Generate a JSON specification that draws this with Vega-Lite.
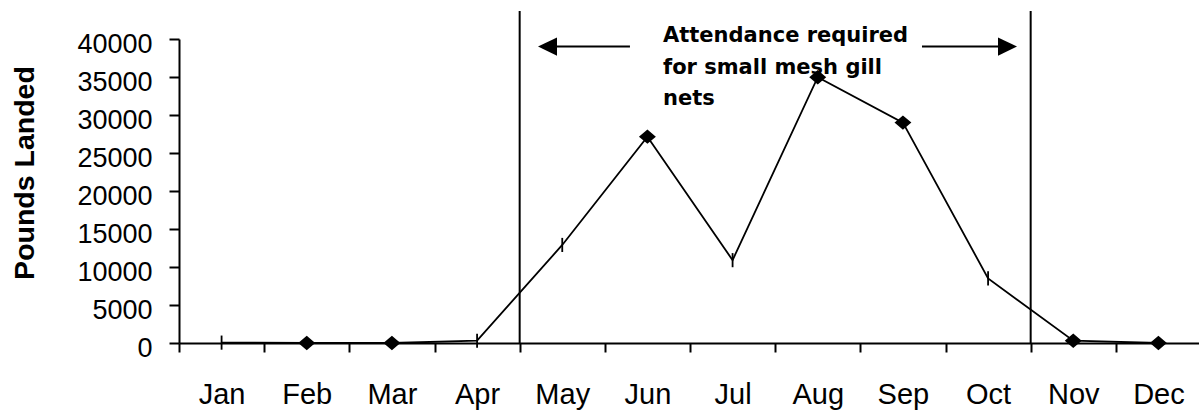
{
  "$schema": "https://vega.github.io/schema/vega-lite/v6.json",
  "width": 1022,
  "height": 304,
  "autosize": {"type": "none"},
  "padding": {"left": 179, "top": 39, "right": 0, "bottom": 68},
  "background": "white",
  "config": {
    "view": {"stroke": null},
    "axisY": {
      "grid": false, "labelOverlap": false,
      "domainColor": "black", "domainWidth": 2,
      "tickColor": "black", "tickWidth": 2, "tickSize": 10,
      "labelFont": "Liberation Sans", "labelFontSize": 27, "labelColor": "black",
      "labelPadding": 17, "labelOffset": 5,
      "titleFont": "Liberation Sans", "titleFontSize": 28.5, "titleFontWeight": "bold",
      "titleColor": "black", "titleAngle": -90, "titleBaseline": "alphabetic",
      "titleAlign": "center", "titleX": -146, "titleY": 133.5
    }
  },
  "datasets": {
    "landings": [
      {"month": "Jan", "pounds": 50, "marker": "dash"},
      {"month": "Feb", "pounds": 0, "marker": "diamond"},
      {"month": "Mar", "pounds": 0, "marker": "diamond"},
      {"month": "Apr", "pounds": 300, "marker": "dash"},
      {"month": "May", "pounds": 12900, "marker": "dash"},
      {"month": "Jun", "pounds": 27150, "marker": "diamond"},
      {"month": "Jul", "pounds": 10900, "marker": "dash"},
      {"month": "Aug", "pounds": 34970, "marker": "diamond"},
      {"month": "Sep", "pounds": 29000, "marker": "diamond"},
      {"month": "Oct", "pounds": 8500, "marker": "dash"},
      {"month": "Nov", "pounds": 300, "marker": "diamond"},
      {"month": "Dec", "pounds": 0, "marker": "diamond"}
    ],
    "rules": [
      {"pos": 4, "y0": 0, "y1": 43700},
      {"pos": 10, "y0": 0, "y1": 43700}
    ],
    "shafts": [
      {"from": 4.327, "to": 5.295, "y": 39000},
      {"from": 8.724, "to": 9.728, "y": 39000}
    ],
    "heads": [
      {"pos": 4.327, "y": 39000, "dir": "left"},
      {"pos": 9.728, "y": 39000, "dir": "right"}
    ],
    "note": [
      {"pos": 5.683, "y": 39600, "label": "Attendance required\nfor small mesh gill\nnets"}
    ]
  },
  "resolve": {"scale": {"x": "independent"}, "axis": {"x": "independent"}},
  "layer": [
    {
      "data": {"name": "landings"},
      "encoding": {
        "x": {
          "field": "month", "type": "ordinal", "sort": null,
          "scale": {"type": "band", "paddingInner": 0, "paddingOuter": 0},
          "axis": {
            "title": null, "tickBand": "extent", "labelAngle": 0,
            "domainColor": "black", "domainWidth": 2,
            "tickColor": "black", "tickWidth": 2, "tickSize": 9,
            "labelFont": "Liberation Sans", "labelFontSize": 29, "labelColor": "black",
            "labelBaseline": "alphabetic", "labelPadding": 51, "grid": false, "labelOverlap": false
          }
        },
        "y": {
          "field": "pounds", "type": "quantitative",
          "scale": {"domain": [0, 40000], "nice": false},
          "axis": {"title": "Pounds Landed", "values": [0, 5000, 10000, 15000, 20000, 25000, 30000, 35000, 40000], "format": "d", "tickCount": 9}
        }
      },
      "layer": [
        {"mark": {"type": "line", "color": "black", "strokeWidth": 1.8}},
        {
          "mark": {"type": "point", "filled": true, "fill": "black", "stroke": "black", "strokeWidth": 1.8, "opacity": 1, "size": 200},
          "encoding": {
            "shape": {
              "field": "marker", "type": "nominal",
              "scale": {"domain": ["diamond", "dash", "left", "right"], "range": ["M-1,0L0,-0.85L1,0L0,0.85Z", "M0,-1L0,1", "M-1,0L1,-0.95L1,0.95Z", "M1,0L-1,-0.95L-1,0.95Z"]},
              "legend": null
            }
          }
        }
      ]
    },
    {
      "data": {"name": "rules"},
      "mark": {"type": "rule", "color": "black", "strokeWidth": 2},
      "encoding": {
        "x": {"field": "pos", "type": "quantitative", "scale": {"domain": [0, 12], "nice": false, "zero": false}, "axis": null},
        "y": {"field": "y0", "type": "quantitative", "scale": {"domain": [0, 40000], "nice": false}, "axis": {"title": "Pounds Landed", "values": [0, 5000, 10000, 15000, 20000, 25000, 30000, 35000, 40000], "format": "d", "tickCount": 9}},
        "y2": {"field": "y1"}
      }
    },
    {
      "data": {"name": "shafts"},
      "mark": {"type": "rule", "color": "black", "strokeWidth": 2},
      "encoding": {
        "x": {"field": "from", "type": "quantitative", "scale": {"domain": [0, 12], "nice": false, "zero": false}, "axis": null},
        "x2": {"field": "to"},
        "y": {"field": "y", "type": "quantitative", "scale": {"domain": [0, 40000], "nice": false}, "axis": {"title": "Pounds Landed", "values": [0, 5000, 10000, 15000, 20000, 25000, 30000, 35000, 40000], "format": "d", "tickCount": 9}}
      }
    },
    {
      "data": {"name": "heads"},
      "mark": {"type": "point", "filled": true, "fill": "black", "opacity": 1, "size": 361, "strokeWidth": 0},
      "encoding": {
        "x": {"field": "pos", "type": "quantitative", "scale": {"domain": [0, 12], "nice": false, "zero": false}, "axis": null},
        "y": {"field": "y", "type": "quantitative", "scale": {"domain": [0, 40000], "nice": false}, "axis": {"title": "Pounds Landed", "values": [0, 5000, 10000, 15000, 20000, 25000, 30000, 35000, 40000], "format": "d", "tickCount": 9}},
        "shape": {
          "field": "dir", "type": "nominal",
          "scale": {"domain": ["diamond", "dash", "left", "right"], "range": ["M-1,0L0,-0.85L1,0L0,0.85Z", "M0,-1L0,1", "M-1,0L1,-0.95L1,0.95Z", "M1,0L-1,-0.95L-1,0.95Z"]},
          "legend": null
        }
      }
    },
    {
      "data": {"name": "note"},
      "mark": {"type": "text", "font": "DejaVu Sans", "fontSize": 21, "fontWeight": "bold", "color": "black", "align": "left", "baseline": "alphabetic", "lineBreak": "\n", "lineHeight": 31.5},
      "encoding": {
        "x": {"field": "pos", "type": "quantitative", "scale": {"domain": [0, 12], "nice": false, "zero": false}, "axis": null},
        "y": {"field": "y", "type": "quantitative", "scale": {"domain": [0, 40000], "nice": false}, "axis": {"title": "Pounds Landed", "values": [0, 5000, 10000, 15000, 20000, 25000, 30000, 35000, 40000], "format": "d", "tickCount": 9}},
        "text": {"field": "label"}
      }
    }
  ]
}
